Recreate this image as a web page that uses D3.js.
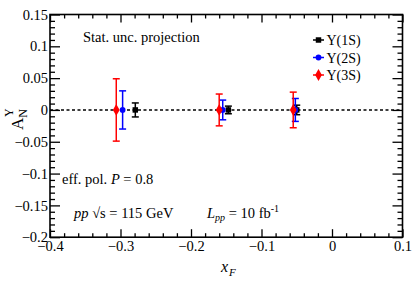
<!DOCTYPE html>
<html><head><meta charset="utf-8">
<script src="https://cdn.jsdelivr.net/npm/d3@7"></script>
</head>
<body style="margin:0;background:#fff"><svg id="c" width="415" height="283"></svg>
<script>
// ---- data ----
const seriesNames = ["Υ(1S)", "Υ(2S)", "Υ(3S)"];
const seriesColors = ["#000000", "#0000ff", "#ff0000"];
const xF1S = [-0.279, -0.147, -0.050];
const an1S = [0, 0, 0];
const err1S = [0.011, 0.006, 0.0075];
const xF2S = [-0.297, -0.155, -0.052];
const an2S = [0, 0, 0];
const err2S = [0.030, 0.0155, 0.018];
const xF3S = [-0.306, -0.160, -0.055];
const an3S = [0, 0, 0];
const err3S = [0.049, 0.025, 0.028];
const xMajorTicks = [-0.4, -0.3, -0.2, -0.1, 0, 0.1];
const xTickLabels = ["\u22120.4", "\u22120.3", "\u22120.2", "\u22120.1", "0", "0.1"];
const yMajorTicks = [-0.2, -0.15, -0.1, -0.05, 0, 0.05, 0.1, 0.15];
const yTickLabels = ["\u22120.2", "\u22120.15", "\u22120.1", "\u22120.05", "0", "0.05", "0.1", "0.15"];

const series = [
  {name: seriesNames[0], color: seriesColors[0], shape: d3.symbolSquare, size: 30, x: xF1S, y: an1S, e: err1S},
  {name: seriesNames[1], color: seriesColors[1], shape: d3.symbolCircle, size: 26, x: xF2S, y: an2S, e: err2S},
  {name: seriesNames[2], color: seriesColors[2], shape: d3.symbolDiamond, size: 40, x: xF3S, y: an3S, e: err3S}
];

const FONT = '"Liberation Serif", "Times New Roman", serif';
const svg = d3.select("#c");
const L = 50, R = 402.5, T = 14.5, B = 237.2;
const x = d3.scaleLinear().domain([-0.4, 0.1]).range([L, R]);
const y = d3.scaleLinear().domain([-0.2, 0.15]).range([B, T]);

const xMinor = d3.range(-0.4, 0.1001, 0.02).map(v => +v.toFixed(3)).filter(v => !xMajorTicks.some(m => Math.abs(m - v) < 1e-6));
const yMinor = d3.range(-0.2, 0.1501, 0.01).map(v => +v.toFixed(3)).filter(v => !yMajorTicks.some(m => Math.abs(m - v) < 1e-6));

function txt(sel) { return sel.style("font-family", FONT).attr("fill", "#000"); }
function styleAxis(g) {
  g.select(".domain").remove();
  g.selectAll("line").attr("stroke", "#000").attr("stroke-width", 1.3);
  g.selectAll("text").style("font-family", FONT).style("font-size", "14.5px").attr("fill", "#000");
}
// bottom
svg.append("g").attr("transform", `translate(0,${B})`)
  .call(d3.axisBottom(x).tickValues(xMajorTicks).tickSize(-8).tickPadding(4)
    .tickFormat((d, i) => xTickLabels[i])).call(styleAxis);
svg.append("g").attr("transform", `translate(0,${B})`)
  .call(d3.axisBottom(x).tickValues(xMinor).tickSize(-4).tickFormat("")).call(styleAxis);
// top
svg.append("g").attr("transform", `translate(0,${T})`)
  .call(d3.axisTop(x).tickValues(xMajorTicks).tickSize(-8).tickFormat("")).call(styleAxis);
svg.append("g").attr("transform", `translate(0,${T})`)
  .call(d3.axisTop(x).tickValues(xMinor).tickSize(-4).tickFormat("")).call(styleAxis);
// left
svg.append("g").attr("transform", `translate(${L},0)`)
  .call(d3.axisLeft(y).tickValues(yMajorTicks).tickSize(-10).tickPadding(2)
    .tickFormat((d, i) => yTickLabels[i])).call(styleAxis);
svg.append("g").attr("transform", `translate(${L},0)`)
  .call(d3.axisLeft(y).tickValues(yMinor).tickSize(-5).tickFormat("")).call(styleAxis);
// right
svg.append("g").attr("transform", `translate(${R},0)`)
  .call(d3.axisRight(y).tickValues(yMajorTicks).tickSize(-10).tickFormat("")).call(styleAxis);
svg.append("g").attr("transform", `translate(${R},0)`)
  .call(d3.axisRight(y).tickValues(yMinor).tickSize(-5).tickFormat("")).call(styleAxis);

// frame
svg.append("rect").attr("x", L).attr("y", T).attr("width", R - L).attr("height", B - T)
  .attr("fill", "none").attr("stroke", "#000").attr("stroke-width", 1.6);

// zero line
svg.append("line").attr("x1", L).attr("x2", R).attr("y1", y(0)).attr("y2", y(0))
  .attr("stroke", "#000").attr("stroke-width", 1.4).attr("stroke-dasharray", "3,2.5");

// data
series.forEach(s => {
  const g = svg.append("g");
  s.x.forEach((xv, i) => {
    const cx = x(xv), y1 = y(s.y[i] + s.e[i]), y0 = y(s.y[i] - s.e[i]);
    g.append("line").attr("x1", cx).attr("x2", cx).attr("y1", y1).attr("y2", y0)
      .attr("stroke", s.color).attr("stroke-width", 1.5);
    [y1, y0].forEach(yy => g.append("line").attr("x1", cx - 3.5).attr("x2", cx + 3.5)
      .attr("y1", yy).attr("y2", yy).attr("stroke", s.color).attr("stroke-width", 1.5));
    g.append("path").attr("d", d3.symbol(s.shape, s.size)())
      .attr("transform", `translate(${cx},${y(s.y[i])})`).attr("fill", s.color);
  });
});

// legend
const legY = [40, 57.5, 75];
series.forEach((s, i) => {
  svg.append("line").attr("x1", 313).attr("x2", 324).attr("y1", legY[i]).attr("y2", legY[i])
    .attr("stroke", s.color).attr("stroke-width", 1.5);
  svg.append("path").attr("d", d3.symbol(s.shape, s.size)())
    .attr("transform", `translate(318.5,${legY[i]})`).attr("fill", s.color);
  txt(svg.append("text")).attr("x", 326.5).attr("y", legY[i] + 5).style("font-size", "14px").text(s.name);
});

// annotations
txt(svg.append("text")).attr("x", 83).attr("y", 42).style("font-size", "14.5px").text("Stat. unc. projection");
const t2 = txt(svg.append("text")).attr("x", 62).attr("y", 184).style("font-size", "14.5px");
t2.append("tspan").text("eff. pol. ");
t2.append("tspan").attr("font-style", "italic").text("P");
t2.append("tspan").text(" = 0.8");
const t3 = txt(svg.append("text")).attr("x", 74).attr("y", 218).style("font-size", "14.5px");
t3.append("tspan").attr("font-style", "italic").text("pp");
t3.append("tspan").text(" \u221As = 115 GeV");
const t4 = txt(svg.append("text")).attr("x", 207).attr("y", 218).style("font-size", "14.5px");
t4.append("tspan").attr("font-style", "italic").text("L");
t4.append("tspan").attr("font-style", "italic").style("font-size", "10px").attr("dy", 3).text("pp");
t4.append("tspan").attr("dy", -3).text(" = 10 fb");
t4.append("tspan").style("font-size", "10px").attr("dy", -6).text("-1");

// axis titles
const xt = txt(svg.append("text")).attr("x", 221).attr("y", 272).style("font-size", "16px");
xt.append("tspan").attr("font-style", "italic").text("x");
xt.append("tspan").attr("font-style", "italic").style("font-size", "11px").attr("dy", 4).attr("dx", 1).text("F");

const yt = txt(svg.append("text")).attr("transform", "translate(23,130) rotate(-90)").style("font-size", "17px");
yt.append("tspan").text("A");
yt.append("tspan").style("font-size", "12px").attr("dy", 4).text("N");
yt.append("tspan").style("font-size", "12px").attr("dy", -14).attr("dx", -8).text("\u03A5");
</script>
</body></html>
